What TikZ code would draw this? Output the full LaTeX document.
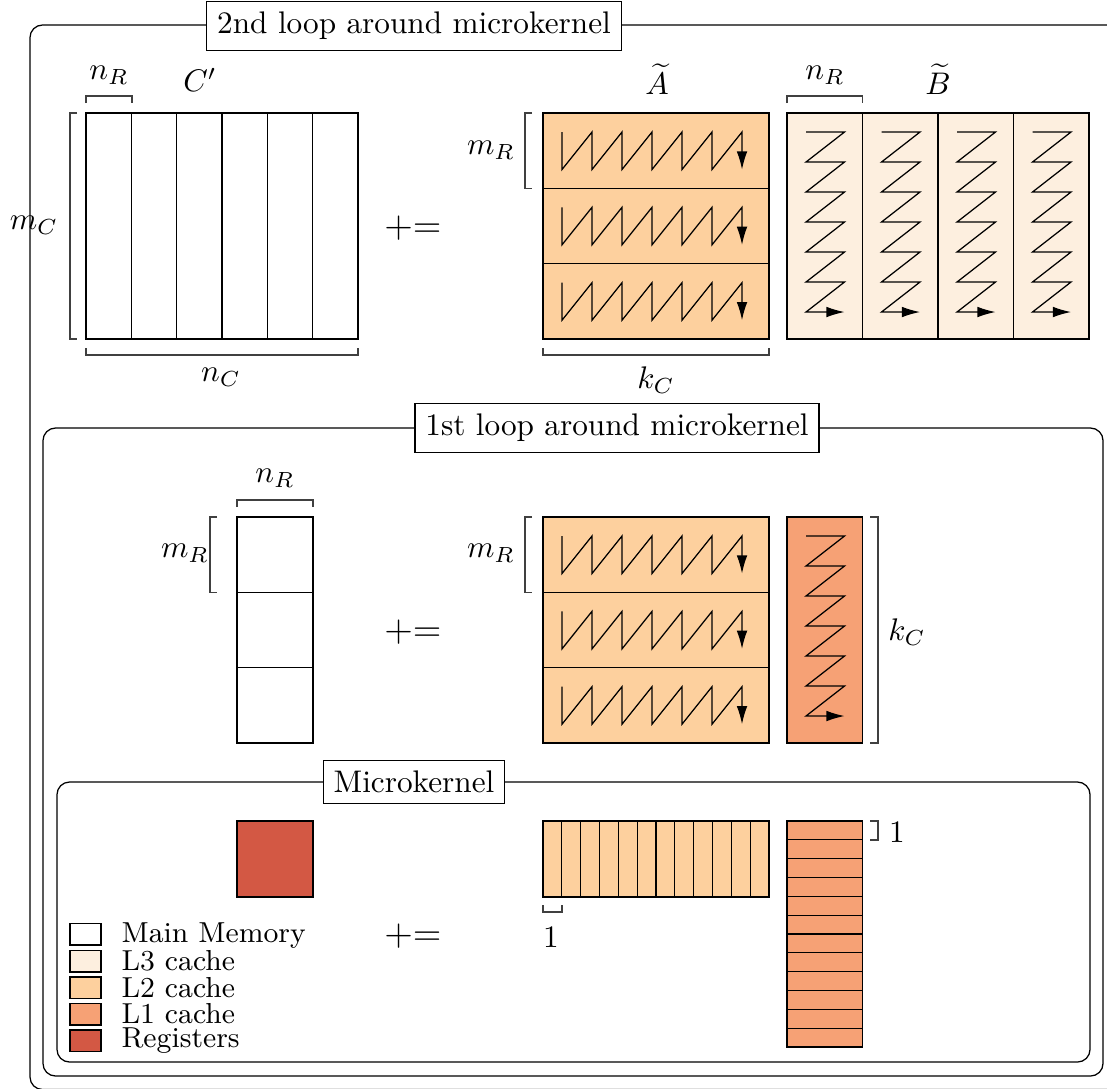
\documentclass[tikz,border=0pt]{standalone}
\usetikzlibrary{arrows.meta}
\definecolor{mainmem}{RGB}{255,255,255}
\definecolor{lthree}{RGB}{253,239,223}
\definecolor{ltwo}{RGB}{253,208,158}
\definecolor{lone}{RGB}{246,161,117}
\definecolor{regs}{RGB}{211,88,68}
\tikzset{
  titlebox/.style={draw, fill=white},
  loopbox/.style={draw, rounded corners=4pt},
  brk/.style={draw=black!75, line width=0.4pt},
  zz/.style={draw, line width=0.4pt, -{Latex[length=5.8pt,width=3.4pt]}},
  pluseq/.style={font=\large},
  legtext/.style={anchor=base west, inner sep=0pt, font=\fontsize{9.25}{11}\selectfont},
}
\newcommand{\pe}{$\mathrel{+}\mathrel{=}$}
\begin{document}
\begin{tikzpicture}[x=0.32pt, y=-0.32pt]
\useasboundingbox (0,0) rectangle (1107,1088);
\begin{scope}
\clip (0,0) rectangle (1107,1088);
% loop boxes
\draw[loopbox] (30,25) rectangle (1120,1089.5);
\draw[loopbox] (43,428) rectangle (1103,1076);
\draw[loopbox] (57,782) rectangle (1090,1062);
\node[titlebox] (t2) at (414,26) {2nd loop around microkernel};
\node[titlebox] (t1) at (617,428) {1st loop around microkernel};
\node[titlebox] (t0) at (414,782) {Microkernel};

% ===== top row =====
% C'
\draw (86,113) rectangle (358,339);
\foreach \i in {1,...,5} \draw ({86+45.333*\i},113) -- ++(0,226);
\draw[brk] (77,113) -- (70,113) -- (70,339) -- (77,339);
\draw[brk] (86,103) -- (86,96) -- (132,96) -- (132,103);
\draw[brk] (86,348) -- (86,355) -- (358,355) -- (358,348);
\node (nR1) at (109,75) {$n_R$};
\node (Cp) at (200,80) {$C'$};
\node (mC) at (34,225) {$m_C$};
\node (nC) at (221,377) {$n_C$};
\node[pluseq] (pe1) at (413,228) {\pe};
% A tilde
\fill[ltwo] (543,113) rectangle (769,339);
\draw (543,113) rectangle (769,339);
\draw (543,188.33) -- (769,188.33);
\draw (543,263.67) -- (769,263.67);
\foreach \r in {113,188.33,263.67}{
  \draw[zz] (562,{\r+19}) \foreach \i in {0,...,5} { -- ({562+30*\i},{\r+56.5}) -- ({592+30*\i},{\r+19}) } -- (742,{\r+56.5});
}
\draw[brk] (532,113) -- (525,113) -- (525,188.33) -- (532,188.33);
\draw[brk] (543,348) -- (543,355) -- (769,355) -- (769,348);
\node (At) at (657,79) {$\widetilde{A}$};
\node (mR1) at (491,150) {$m_R$};
\node (kC1) at (656,380) {$k_C$};
% B tilde
\fill[lthree] (787,113) rectangle (1089,339);
\draw (787,113) rectangle (1089,339);
\foreach \i in {1,2,3} \draw ({787+75.5*\i},113) -- ++(0,226);
\foreach \c in {787,862.5,938,1013.5}{
  \draw[zz] ({\c+19},132) -- ({\c+57.5},132) \foreach \j in {1,...,6} { -- ({\c+19},{132+30*\j}) -- ({\c+57.5},{132+30*\j}) };
}
\draw[brk] (787,103) -- (787,96) -- (862.5,96) -- (862.5,103);
\node (nR2) at (825,75) {$n_R$};
\node (Bt) at (938,79) {$\widetilde{B}$};

% ===== middle row =====
\draw (237,517) rectangle (313,743);
\draw (237,592.33) -- (313,592.33);
\draw (237,667.67) -- (313,667.67);
\draw[brk] (217,517) -- (210,517) -- (210,592.33) -- (217,592.33);
\draw[brk] (237,507) -- (237,500) -- (313,500) -- (313,507);
\node (nR3) at (275,478) {$n_R$};
\node (mR2) at (185,553) {$m_R$};
\node[pluseq] (pe2) at (413,632) {\pe};
\fill[ltwo] (543,517) rectangle (769,743);
\draw (543,517) rectangle (769,743);
\draw (543,592.33) -- (769,592.33);
\draw (543,667.67) -- (769,667.67);
\foreach \r in {517,592.33,667.67}{
  \draw[zz] (562,{\r+19}) \foreach \i in {0,...,5} { -- ({562+30*\i},{\r+56.5}) -- ({592+30*\i},{\r+19}) } -- (742,{\r+56.5});
}
\draw[brk] (532,517) -- (525,517) -- (525,592.33) -- (532,592.33);
\node (mR3) at (491,553) {$m_R$};
\fill[lone] (787,517) rectangle (862.5,743);
\draw (787,517) rectangle (862.5,743);
\draw[zz] (806,536) -- (844.5,536) \foreach \j in {1,...,6} { -- (806,{536+30*\j}) -- (844.5,{536+30*\j}) };
\draw[brk] (870,517) -- (878,517) -- (878,743) -- (870,743);
\node (kC2) at (907,632) {$k_C$};

% ===== microkernel =====
\fill[regs] (237,821) rectangle (313,897);
\draw (237,821) rectangle (313,897);
\node[pluseq] (pe3) at (413,936) {\pe};
\fill[ltwo] (543,821) rectangle (769,897);
\draw (543,821) rectangle (769,897);
\foreach \i in {1,...,11} \draw ({543+18.833*\i},821) -- ++(0,76);
\draw[brk] (543,905) -- (543,912) -- (562,912) -- (562,905);
\node (one1) at (551,937) {$1$};
\fill[lone] (787,821) rectangle (862.5,1047);
\draw (787,821) rectangle (862.5,1047);
\foreach \i in {1,...,11} \draw (787,{821+18.833*\i}) -- ++(75.5,0);
\draw[brk] (870,821) -- (878,821) -- (878,840) -- (870,840);
\node (one2) at (897,832) {$1$};

% legend
\draw[fill=mainmem] (70,923.5) rectangle (101,945);
\draw[fill=lthree] (70,950.5) rectangle (101,972);
\draw[fill=ltwo] (70,977) rectangle (101,998.5);
\draw[fill=lone] (70,1003.5) rectangle (101,1025);
\draw[fill=regs] (70,1030) rectangle (101,1051.5);
\node[legtext] (lg1) at (121,942) {Main Memory};
\node[legtext] (lg2) at (121,970.5) {L3 cache};
\node[legtext] (lg3) at (121,997) {L2 cache};
\node[legtext] (lg4) at (121,1023.5) {L1 cache};
\node[legtext] (lg5) at (121,1047.5) {Registers};
\end{scope}
\end{tikzpicture}
\end{document}
